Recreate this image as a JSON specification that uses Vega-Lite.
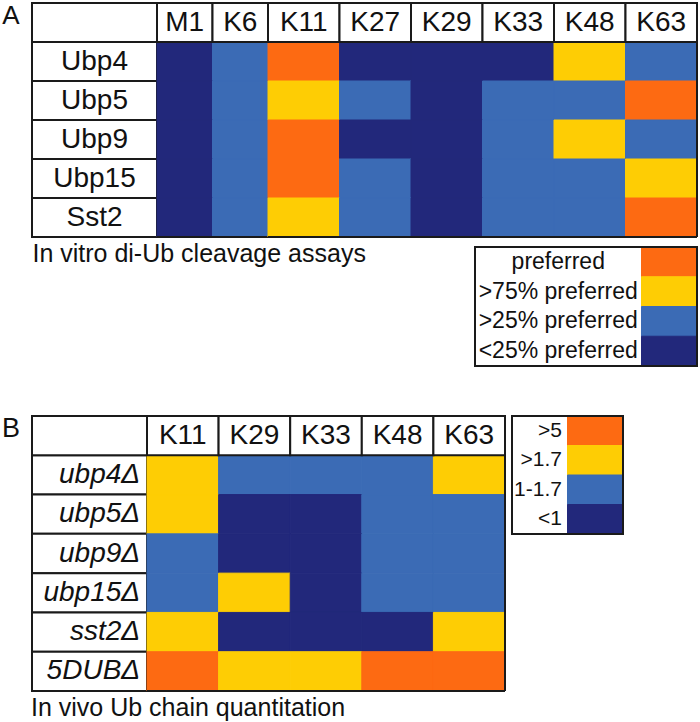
{
  "$schema": "https://vega.github.io/schema/vega-lite/v6.json",
  "background": "white",
  "padding": {"left": 0, "top": 2, "right": 2, "bottom": 0},
  "config": {
    "font": "Liberation Sans",
    "view": {"stroke": null},
    "text": {"font": "Liberation Sans", "color": "#111111"},
    "title": {"font": "Liberation Sans", "fontWeight": "normal", "color": "#111111"}
  },
  "datasets": {
    "cellsA": [
      {"dub": "Ubp4", "chain": "M1", "pref": "<25% preferred"},
      {"dub": "Ubp4", "chain": "K6", "pref": ">25% preferred"},
      {"dub": "Ubp4", "chain": "K11", "pref": "preferred"},
      {"dub": "Ubp4", "chain": "K27", "pref": "<25% preferred"},
      {"dub": "Ubp4", "chain": "K29", "pref": "<25% preferred"},
      {"dub": "Ubp4", "chain": "K33", "pref": "<25% preferred"},
      {"dub": "Ubp4", "chain": "K48", "pref": ">75% preferred"},
      {"dub": "Ubp4", "chain": "K63", "pref": ">25% preferred"},
      {"dub": "Ubp5", "chain": "M1", "pref": "<25% preferred"},
      {"dub": "Ubp5", "chain": "K6", "pref": ">25% preferred"},
      {"dub": "Ubp5", "chain": "K11", "pref": ">75% preferred"},
      {"dub": "Ubp5", "chain": "K27", "pref": ">25% preferred"},
      {"dub": "Ubp5", "chain": "K29", "pref": "<25% preferred"},
      {"dub": "Ubp5", "chain": "K33", "pref": ">25% preferred"},
      {"dub": "Ubp5", "chain": "K48", "pref": ">25% preferred"},
      {"dub": "Ubp5", "chain": "K63", "pref": "preferred"},
      {"dub": "Ubp9", "chain": "M1", "pref": "<25% preferred"},
      {"dub": "Ubp9", "chain": "K6", "pref": ">25% preferred"},
      {"dub": "Ubp9", "chain": "K11", "pref": "preferred"},
      {"dub": "Ubp9", "chain": "K27", "pref": "<25% preferred"},
      {"dub": "Ubp9", "chain": "K29", "pref": "<25% preferred"},
      {"dub": "Ubp9", "chain": "K33", "pref": ">25% preferred"},
      {"dub": "Ubp9", "chain": "K48", "pref": ">75% preferred"},
      {"dub": "Ubp9", "chain": "K63", "pref": ">25% preferred"},
      {"dub": "Ubp15", "chain": "M1", "pref": "<25% preferred"},
      {"dub": "Ubp15", "chain": "K6", "pref": ">25% preferred"},
      {"dub": "Ubp15", "chain": "K11", "pref": "preferred"},
      {"dub": "Ubp15", "chain": "K27", "pref": ">25% preferred"},
      {"dub": "Ubp15", "chain": "K29", "pref": "<25% preferred"},
      {"dub": "Ubp15", "chain": "K33", "pref": ">25% preferred"},
      {"dub": "Ubp15", "chain": "K48", "pref": ">25% preferred"},
      {"dub": "Ubp15", "chain": "K63", "pref": ">75% preferred"},
      {"dub": "Sst2", "chain": "M1", "pref": "<25% preferred"},
      {"dub": "Sst2", "chain": "K6", "pref": ">25% preferred"},
      {"dub": "Sst2", "chain": "K11", "pref": ">75% preferred"},
      {"dub": "Sst2", "chain": "K27", "pref": ">25% preferred"},
      {"dub": "Sst2", "chain": "K29", "pref": "<25% preferred"},
      {"dub": "Sst2", "chain": "K33", "pref": ">25% preferred"},
      {"dub": "Sst2", "chain": "K48", "pref": ">25% preferred"},
      {"dub": "Sst2", "chain": "K63", "pref": "preferred"}
    ],
    "cellsB": [
      {"strain": "ubp4Δ", "chain": "K11", "ratio": ">1.7"},
      {"strain": "ubp4Δ", "chain": "K29", "ratio": "1-1.7"},
      {"strain": "ubp4Δ", "chain": "K33", "ratio": "1-1.7"},
      {"strain": "ubp4Δ", "chain": "K48", "ratio": "1-1.7"},
      {"strain": "ubp4Δ", "chain": "K63", "ratio": ">1.7"},
      {"strain": "ubp5Δ", "chain": "K11", "ratio": ">1.7"},
      {"strain": "ubp5Δ", "chain": "K29", "ratio": "<1"},
      {"strain": "ubp5Δ", "chain": "K33", "ratio": "<1"},
      {"strain": "ubp5Δ", "chain": "K48", "ratio": "1-1.7"},
      {"strain": "ubp5Δ", "chain": "K63", "ratio": "1-1.7"},
      {"strain": "ubp9Δ", "chain": "K11", "ratio": "1-1.7"},
      {"strain": "ubp9Δ", "chain": "K29", "ratio": "<1"},
      {"strain": "ubp9Δ", "chain": "K33", "ratio": "<1"},
      {"strain": "ubp9Δ", "chain": "K48", "ratio": "1-1.7"},
      {"strain": "ubp9Δ", "chain": "K63", "ratio": "1-1.7"},
      {"strain": "ubp15Δ", "chain": "K11", "ratio": "1-1.7"},
      {"strain": "ubp15Δ", "chain": "K29", "ratio": ">1.7"},
      {"strain": "ubp15Δ", "chain": "K33", "ratio": "<1"},
      {"strain": "ubp15Δ", "chain": "K48", "ratio": "1-1.7"},
      {"strain": "ubp15Δ", "chain": "K63", "ratio": "1-1.7"},
      {"strain": "sst2Δ", "chain": "K11", "ratio": ">1.7"},
      {"strain": "sst2Δ", "chain": "K29", "ratio": "<1"},
      {"strain": "sst2Δ", "chain": "K33", "ratio": "<1"},
      {"strain": "sst2Δ", "chain": "K48", "ratio": "<1"},
      {"strain": "sst2Δ", "chain": "K63", "ratio": ">1.7"},
      {"strain": "5DUBΔ", "chain": "K11", "ratio": ">5"},
      {"strain": "5DUBΔ", "chain": "K29", "ratio": ">1.7"},
      {"strain": "5DUBΔ", "chain": "K33", "ratio": ">1.7"},
      {"strain": "5DUBΔ", "chain": "K48", "ratio": ">5"},
      {"strain": "5DUBΔ", "chain": "K63", "ratio": ">5"}
    ],
    "chainsA": [
      {"chain": "M1"}, {"chain": "K6"}, {"chain": "K11"}, {"chain": "K27"},
      {"chain": "K29"}, {"chain": "K33"}, {"chain": "K48"}, {"chain": "K63"}
    ],
    "dubsA": [
      {"dub": "Ubp4"}, {"dub": "Ubp5"}, {"dub": "Ubp9"}, {"dub": "Ubp15"}, {"dub": "Sst2"}
    ],
    "chainsB": [
      {"chain": "K11"}, {"chain": "K29"}, {"chain": "K33"}, {"chain": "K48"}, {"chain": "K63"}
    ],
    "strainsB": [
      {"strain": "ubp4Δ"}, {"strain": "ubp5Δ"}, {"strain": "ubp9Δ"},
      {"strain": "ubp15Δ"}, {"strain": "sst2Δ"}, {"strain": "5DUBΔ"}
    ],
    "keyA": [
      {"pref": "preferred"}, {"pref": ">75% preferred"}, {"pref": ">25% preferred"}, {"pref": "<25% preferred"}
    ],
    "keyB": [
      {"ratio": ">5"}, {"ratio": ">1.7"}, {"ratio": "1-1.7"}, {"ratio": "<1"}
    ]
  },
  "resolve": {"scale": {"color": "independent", "stroke": "independent"}},
  "spacing": 9,
  "hconcat": [
    {
      "bounds": "flush",
      "spacing": 50,
      "vconcat": [
        {
          "width": 22, "height": 363,
          "data": {"values": [{"panel": "A"}]},
          "mark": {"type": "text", "fontSize": 26, "baseline": "top"},
          "encoding": {
            "y": {"field": "panel", "type": "nominal", "bandPosition": 0.001, "scale": {"type": "band", "domain": ["A"], "paddingInner": 0, "paddingOuter": 0}, "axis": null},
            "text": {"field": "panel"}
          }
        },
        {
          "width": 22, "height": 275,
          "data": {"values": [{"panel": "B"}]},
          "mark": {"type": "text", "fontSize": 27, "baseline": "top"},
          "encoding": {
            "y": {"field": "panel", "type": "nominal", "bandPosition": 0.001, "scale": {"type": "band", "domain": ["B"], "paddingInner": 0, "paddingOuter": 0}, "axis": null},
            "text": {"field": "panel"}
          }
        }
      ]
    },
    {
      "spacing": 48,
      "resolve": {"scale": {"color": "independent", "stroke": "independent"}},
      "vconcat": [
        {
          "spacing": 4,
          "vconcat": [
            {
              "bounds": "flush",
              "spacing": 0,
              "hconcat": [
                {
                  "width": 125, "height": 234,
                  "layer": [
                    {
                      "data": {"name": "dubsA"},
                      "mark": {"type": "rect", "fill": "white", "stroke": "#1a1a1a", "strokeWidth": 2},
                      "encoding": {
                        "y": {"field": "dub", "type": "nominal", "scale": {"domain": ["hdr", "Ubp4", "Ubp5", "Ubp9", "Ubp15", "Sst2"], "paddingInner": 0, "paddingOuter": 0}, "axis": null}
                      }
                    },
                    {
                      "data": {"values": [{"cell": "corner"}]},
                      "mark": {"type": "rect", "fill": "white", "stroke": "#1a1a1a", "strokeWidth": 2},
                      "encoding": {"y": {"datum": "hdr", "type": "nominal"}}
                    },
                    {
                      "data": {"name": "dubsA"},
                      "mark": {"type": "text", "fontSize": 28},
                      "encoding": {
                        "y": {"field": "dub", "type": "nominal"},
                        "text": {"field": "dub"}
                      }
                    }
                  ]
                },
                {
                  "width": 111, "height": 234,
                  "layer": [
                    {
                      "data": {"name": "cellsA"},
                      "transform": [{"filter": {"field": "chain", "oneOf": ["M1", "K6"]}}],
                      "mark": {"type": "rect", "strokeWidth": 1},
                      "encoding": {
                        "x": {"field": "chain", "type": "nominal", "scale": {"domain": ["M1", "K6"], "paddingInner": 0, "paddingOuter": 0}, "axis": null},
                        "y": {"field": "dub", "type": "nominal", "scale": {"domain": ["hdr", "Ubp4", "Ubp5", "Ubp9", "Ubp15", "Sst2"], "paddingInner": 0, "paddingOuter": 0}, "axis": null},
                        "color": {"field": "pref", "type": "nominal", "legend": null, "scale": {"domain": ["preferred", ">75% preferred", ">25% preferred", "<25% preferred"], "range": ["#FD6A12", "#FECD04", "#3B6BB5", "#22287B"]}},
                        "stroke": {"field": "pref", "type": "nominal", "legend": null, "scale": {"domain": ["preferred", ">75% preferred", ">25% preferred", "<25% preferred"], "range": ["#FD6A12", "#FECD04", "#3B6BB5", "#22287B"]}}
                      }
                    },
                    {
                      "data": {"name": "chainsA"},
                      "transform": [{"filter": {"field": "chain", "oneOf": ["M1", "K6"]}}],
                      "mark": {"type": "rect", "fill": "white", "stroke": "#1a1a1a", "strokeWidth": 2},
                      "encoding": {
                        "x": {"field": "chain", "type": "nominal"},
                        "y": {"datum": "hdr", "type": "nominal"}
                      }
                    },
                    {
                      "data": {"name": "chainsA"},
                      "transform": [{"filter": {"field": "chain", "oneOf": ["M1", "K6"]}}],
                      "mark": {"type": "text", "fontSize": 28},
                      "encoding": {
                        "x": {"field": "chain", "type": "nominal"},
                        "y": {"datum": "hdr", "type": "nominal"},
                        "text": {"field": "chain"}
                      }
                    },
                    {
                      "data": {"values": [{"edge": "bottom"}]},
                      "mark": {"type": "rule", "stroke": "#1a1a1a", "strokeWidth": 2},
                      "encoding": {"y": {"datum": "Sst2", "type": "nominal", "bandPosition": 1}}
                    }
                  ]
                },
                {
                  "width": 429, "height": 234,
                  "layer": [
                    {
                      "data": {"name": "cellsA"},
                      "transform": [{"filter": {"field": "chain", "oneOf": ["K11", "K27", "K29", "K33", "K48", "K63"]}}],
                      "mark": {"type": "rect", "strokeWidth": 1},
                      "encoding": {
                        "x": {"field": "chain", "type": "nominal", "scale": {"domain": ["K11", "K27", "K29", "K33", "K48", "K63"], "paddingInner": 0, "paddingOuter": 0}, "axis": null},
                        "y": {"field": "dub", "type": "nominal", "scale": {"domain": ["hdr", "Ubp4", "Ubp5", "Ubp9", "Ubp15", "Sst2"], "paddingInner": 0, "paddingOuter": 0}, "axis": null},
                        "color": {"field": "pref", "type": "nominal", "legend": null, "scale": {"domain": ["preferred", ">75% preferred", ">25% preferred", "<25% preferred"], "range": ["#FD6A12", "#FECD04", "#3B6BB5", "#22287B"]}},
                        "stroke": {"field": "pref", "type": "nominal", "legend": null, "scale": {"domain": ["preferred", ">75% preferred", ">25% preferred", "<25% preferred"], "range": ["#FD6A12", "#FECD04", "#3B6BB5", "#22287B"]}}
                      }
                    },
                    {
                      "data": {"name": "chainsA"},
                      "transform": [{"filter": {"field": "chain", "oneOf": ["K11", "K27", "K29", "K33", "K48", "K63"]}}],
                      "mark": {"type": "rect", "fill": "white", "stroke": "#1a1a1a", "strokeWidth": 2},
                      "encoding": {
                        "x": {"field": "chain", "type": "nominal"},
                        "y": {"datum": "hdr", "type": "nominal"}
                      }
                    },
                    {
                      "data": {"name": "chainsA"},
                      "transform": [{"filter": {"field": "chain", "oneOf": ["K11", "K27", "K29", "K33", "K48", "K63"]}}],
                      "mark": {"type": "text", "fontSize": 28},
                      "encoding": {
                        "x": {"field": "chain", "type": "nominal"},
                        "y": {"datum": "hdr", "type": "nominal"},
                        "text": {"field": "chain"}
                      }
                    },
                    {
                      "data": {"values": [{"edge": "bottom"}]},
                      "mark": {"type": "rule", "stroke": "#1a1a1a", "strokeWidth": 2},
                      "encoding": {"y": {"datum": "Sst2", "type": "nominal", "bandPosition": 1}}
                    },
                    {
                      "data": {"values": [{"edge": "right"}]},
                      "mark": {"type": "rule", "stroke": "#1a1a1a", "strokeWidth": 2},
                      "encoding": {"x": {"datum": "K63", "type": "nominal", "bandPosition": 1}}
                    }
                  ]
                }
              ]
            },
            {
              "bounds": "flush",
              "spacing": 0,
              "hconcat": [
                {
                  "width": 443, "height": 30,
                  "data": {"values": [{"caption": "In vitro di-Ub cleavage assays"}]},
                  "mark": {"type": "text", "fontSize": 25, "align": "left", "baseline": "alphabetic"},
                  "encoding": {
                    "x": {"datum": "caption", "type": "nominal", "bandPosition": 0.001, "scale": {"type": "band", "domain": ["caption"], "paddingInner": 0, "paddingOuter": 0}, "axis": null},
                    "y": {"datum": "caption", "type": "nominal", "bandPosition": 0.5, "scale": {"type": "band", "domain": ["caption"], "paddingInner": 0, "paddingOuter": 0}, "axis": null},
                    "text": {"field": "caption"}
                  }
                },
                {
                  "width": 222, "height": 119,
                  "data": {"name": "keyA"},
                  "layer": [
                    {
                      "mark": {"type": "rect", "strokeWidth": 1},
                      "encoding": {
                        "x": {"datum": "swatch", "type": "nominal", "scale": {"domain": ["t1", "t2", "t3", "swatch"], "paddingInner": 0, "paddingOuter": 0}, "axis": null},
                        "y": {"field": "pref", "type": "nominal", "scale": {"domain": ["preferred", ">75% preferred", ">25% preferred", "<25% preferred"], "paddingInner": 0, "paddingOuter": 0}, "axis": null},
                        "color": {"field": "pref", "type": "nominal", "legend": null, "scale": {"domain": ["preferred", ">75% preferred", ">25% preferred", "<25% preferred"], "range": ["#FD6A12", "#FECD04", "#3B6BB5", "#22287B"]}},
                        "stroke": {"field": "pref", "type": "nominal", "legend": null, "scale": {"domain": ["preferred", ">75% preferred", ">25% preferred", "<25% preferred"], "range": ["#FD6A12", "#FECD04", "#3B6BB5", "#22287B"]}}
                      }
                    },
                    {
                      "mark": {"type": "text", "fontSize": 23},
                      "encoding": {
                        "x": {"datum": "t2", "type": "nominal"},
                        "y": {"field": "pref", "type": "nominal"},
                        "text": {"field": "pref"}
                      }
                    },
                    {
                      "data": {"values": [{"frame": "legend"}]},
                      "mark": {"type": "rect", "filled": false, "stroke": "#1a1a1a", "strokeWidth": 2},
                      "encoding": {}
                    }
                  ]
                }
              ]
            }
          ]
        },
        {
          "spacing": 5,
          "hconcat": [
            {
              "bounds": "flush",
              "spacing": 0,
              "title": {"text": "In vivo Ub chain quantitation", "orient": "bottom", "anchor": "start", "baseline": "alphabetic", "fontSize": 25, "offset": 24},
              "hconcat": [
                {
                  "width": 115, "height": 275,
                  "layer": [
                    {
                      "data": {"name": "strainsB"},
                      "mark": {"type": "rect", "fill": "white", "stroke": "#1a1a1a", "strokeWidth": 2},
                      "encoding": {
                        "x": {"datum": "name", "type": "nominal", "scale": {"domain": ["name"], "paddingInner": 0, "paddingOuter": 0}, "axis": null},
                        "y": {"field": "strain", "type": "nominal", "scale": {"domain": ["hdr", "ubp4Δ", "ubp5Δ", "ubp9Δ", "ubp15Δ", "sst2Δ", "5DUBΔ"], "paddingInner": 0, "paddingOuter": 0}, "axis": null}
                      }
                    },
                    {
                      "data": {"values": [{"cell": "corner"}]},
                      "mark": {"type": "rect", "fill": "white", "stroke": "#1a1a1a", "strokeWidth": 2},
                      "encoding": {
                        "x": {"datum": "name", "type": "nominal"},
                        "y": {"datum": "hdr", "type": "nominal"}
                      }
                    },
                    {
                      "data": {"name": "strainsB"},
                      "mark": {"type": "text", "fontSize": 28, "fontStyle": "italic", "align": "right"},
                      "encoding": {
                        "x": {"datum": "name", "type": "nominal", "bandPosition": 0.94},
                        "y": {"field": "strain", "type": "nominal"},
                        "text": {"field": "strain"}
                      }
                    }
                  ]
                },
                {
                  "width": 358, "height": 275,
                  "layer": [
                    {
                      "data": {"name": "cellsB"},
                      "mark": {"type": "rect", "strokeWidth": 1},
                      "encoding": {
                        "x": {"field": "chain", "type": "nominal", "scale": {"domain": ["K11", "K29", "K33", "K48", "K63"], "paddingInner": 0, "paddingOuter": 0}, "axis": null},
                        "y": {"field": "strain", "type": "nominal", "scale": {"domain": ["hdr", "ubp4Δ", "ubp5Δ", "ubp9Δ", "ubp15Δ", "sst2Δ", "5DUBΔ"], "paddingInner": 0, "paddingOuter": 0}, "axis": null},
                        "color": {"field": "ratio", "type": "nominal", "legend": null, "scale": {"domain": [">5", ">1.7", "1-1.7", "<1"], "range": ["#FD6A12", "#FECD04", "#3B6BB5", "#22287B"]}},
                        "stroke": {"field": "ratio", "type": "nominal", "legend": null, "scale": {"domain": [">5", ">1.7", "1-1.7", "<1"], "range": ["#FD6A12", "#FECD04", "#3B6BB5", "#22287B"]}}
                      }
                    },
                    {
                      "data": {"name": "chainsB"},
                      "mark": {"type": "rect", "fill": "white", "stroke": "#1a1a1a", "strokeWidth": 2},
                      "encoding": {
                        "x": {"field": "chain", "type": "nominal"},
                        "y": {"datum": "hdr", "type": "nominal"}
                      }
                    },
                    {
                      "data": {"name": "chainsB"},
                      "mark": {"type": "text", "fontSize": 28},
                      "encoding": {
                        "x": {"field": "chain", "type": "nominal"},
                        "y": {"datum": "hdr", "type": "nominal"},
                        "text": {"field": "chain"}
                      }
                    },
                    {
                      "data": {"values": [{"edge": "bottom"}]},
                      "mark": {"type": "rule", "stroke": "#1a1a1a", "strokeWidth": 2},
                      "encoding": {"y": {"datum": "5DUBΔ", "type": "nominal", "bandPosition": 1}}
                    },
                    {
                      "data": {"values": [{"edge": "right"}]},
                      "mark": {"type": "rule", "stroke": "#1a1a1a", "strokeWidth": 2},
                      "encoding": {"x": {"datum": "K63", "type": "nominal", "bandPosition": 1}}
                    }
                  ]
                }
              ]
            },
            {
              "width": 111, "height": 118,
              "data": {"name": "keyB"},
              "layer": [
                {
                  "mark": {"type": "rect", "strokeWidth": 1},
                  "encoding": {
                    "x": {"datum": "swatch", "type": "nominal", "scale": {"domain": ["label", "swatch"], "paddingInner": 0, "paddingOuter": 0}, "axis": null},
                    "y": {"field": "ratio", "type": "nominal", "scale": {"domain": [">5", ">1.7", "1-1.7", "<1"], "paddingInner": 0, "paddingOuter": 0}, "axis": null},
                    "color": {"field": "ratio", "type": "nominal", "legend": null, "scale": {"domain": [">5", ">1.7", "1-1.7", "<1"], "range": ["#FD6A12", "#FECD04", "#3B6BB5", "#22287B"]}},
                    "stroke": {"field": "ratio", "type": "nominal", "legend": null, "scale": {"domain": [">5", ">1.7", "1-1.7", "<1"], "range": ["#FD6A12", "#FECD04", "#3B6BB5", "#22287B"]}}
                  }
                },
                {
                  "mark": {"type": "text", "fontSize": 21, "align": "right"},
                  "encoding": {
                    "x": {"datum": "label", "type": "nominal", "bandPosition": 0.9},
                    "y": {"field": "ratio", "type": "nominal"},
                    "text": {"field": "ratio"}
                  }
                },
                {
                  "data": {"values": [{"frame": "legend"}]},
                  "mark": {"type": "rect", "filled": false, "stroke": "#1a1a1a", "strokeWidth": 2},
                  "encoding": {}
                }
              ]
            }
          ]
        }
      ]
    }
  ]
}
